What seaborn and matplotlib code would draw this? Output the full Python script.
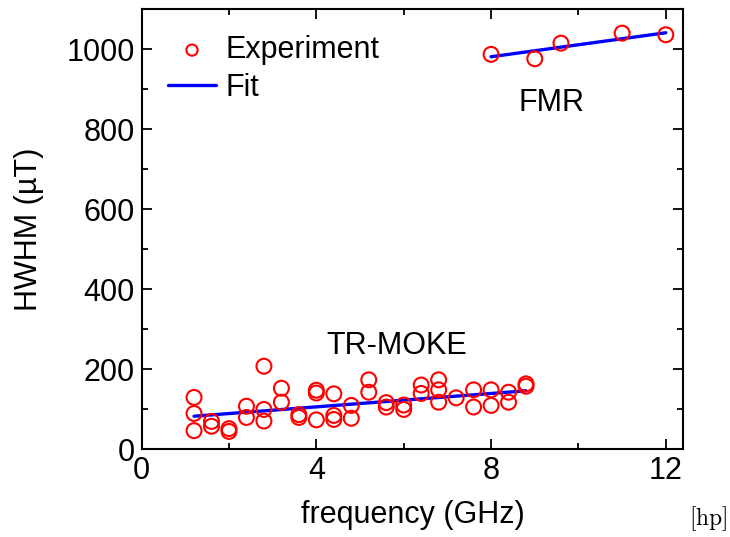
import numpy as np
import pandas as pd
import matplotlib
matplotlib.use('Agg')
import matplotlib.pyplot as plt
import seaborn as sns
from matplotlib.ticker import MultipleLocator

# TR-MOKE measurements (frequency in GHz, HWHM in uT)
moke_freq = [1.2, 1.2, 1.2, 1.6, 1.6, 2.0, 2.0, 2.4, 2.4, 2.8, 2.8, 2.8,
             3.2, 3.2, 3.6, 3.6, 4.0, 4.0, 4.0, 4.4, 4.4, 4.4, 4.8, 4.8,
             5.2, 5.2, 5.6, 5.6, 6.0, 6.0, 6.4, 6.4, 6.8, 6.8, 6.8, 7.2,
             7.6, 7.6, 8.0, 8.0, 8.4, 8.4, 8.8, 8.8]
moke_hwhm = [130, 90, 47, 70, 58, 52, 45, 108, 80, 208, 100, 71,
             153, 118, 87, 80, 148, 141, 74, 139, 85, 75, 110, 78,
             174, 143, 117, 106, 111, 100, 161, 140, 174, 149, 118, 129,
             149, 106, 149, 110, 143, 118, 164, 158]

# FMR measurements
fmr_freq = [8.0, 9.0, 9.6, 11.0, 12.0]
fmr_hwhm = [987, 976, 1015, 1040, 1036]

# Linear fit lines (slope, intercept)
moke_fit = (8.36, 73.0)
fmr_fit = (15.0, 861.0)

sns.set_style('ticks')
plt.rcParams['font.family'] = ['Liberation Sans', 'DejaVu Sans']
plt.rcParams.update({'text.color': 'black', 'axes.labelcolor': 'black',
                     'xtick.color': 'black', 'ytick.color': 'black',
                     'axes.edgecolor': 'black'})

fig = plt.figure(figsize=(7.3, 5.37), dpi=100)
ax = fig.add_axes([0.194, 0.163, 0.742, 0.820])

exp = pd.DataFrame({'f': moke_freq + fmr_freq, 'h': moke_hwhm + fmr_hwhm})
sns.scatterplot(data=exp, x='f', y='h', ax=ax, marker='o', s=115,
                facecolor='none', edgecolor='red', linewidth=1.5,
                label='Experiment', zorder=3)

for i, (fr, fit) in enumerate([(moke_freq, moke_fit), (fmr_freq, fmr_fit)]):
    xs = np.array([min(fr), max(fr)])
    line = pd.DataFrame({'f': xs, 'h': fit[0] * xs + fit[1]})
    sns.lineplot(data=line, x='f', y='h', ax=ax, color='blue', linewidth=2.4,
                 label='Fit' if i == 0 else None, zorder=2)

ax.text(9.38, 866, 'FMR', fontsize=22, ha='center', va='center')
ax.text(5.84, 258, 'TR-MOKE', fontsize=22, ha='center', va='center')

ax.set_xlim(0, 12.4)
ax.set_ylim(0, 1100)
ax.xaxis.set_major_locator(MultipleLocator(4))
ax.xaxis.set_minor_locator(MultipleLocator(2))
ax.yaxis.set_major_locator(MultipleLocator(200))
ax.yaxis.set_minor_locator(MultipleLocator(100))
ax.tick_params(which='both', direction='in', top=True, right=True,
               width=1.3, labelsize=22)
ax.tick_params(which='major', length=7, pad=5)
ax.tick_params(which='minor', length=4)
for s in ax.spines.values():
    s.set_linewidth(1.5)

ax.set_xlabel('frequency (GHz)', fontsize=22, labelpad=10)
ax.set_ylabel('HWHM (µT)', fontsize=22, labelpad=16)

leg = ax.legend(loc='upper left', frameon=False, fontsize=22, markerscale=0.75,
                handlelength=1.6, handletextpad=0.3, borderaxespad=0.45,
                labelspacing=0.25)

fig.text(0.997, 0.008, r'$\mathrm{[hp]}$', fontsize=17, math_fontfamily='cm',
         ha='right', va='bottom')

fig.savefig('out.png', dpi=100)
